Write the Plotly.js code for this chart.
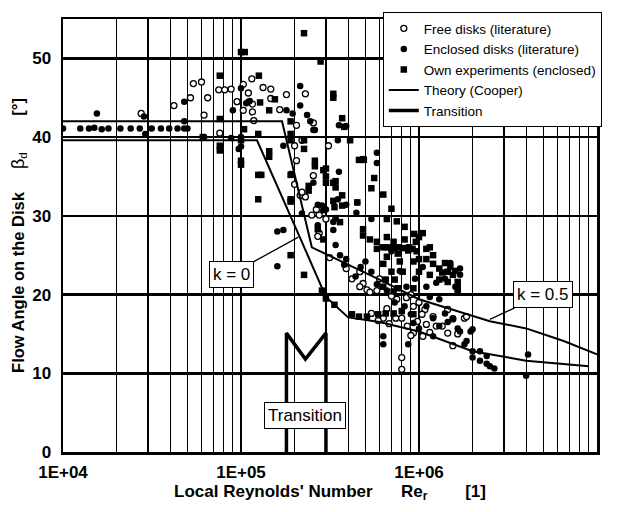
<!DOCTYPE html>
<html>
<head>
<meta charset="utf-8">
<script src="https://cdn.plot.ly/plotly-3.0.1.min.js"></script>
<style>html,body{margin:0;padding:0;background:#fff;}#chart{width:621px;height:512px;}</style>
</head>
<body>
<div id="chart"></div>
<script>
// ---- Data ----
const freeRe = [2.75e4,4.2e4,5.2e4,5.4e4,6.0e4,6.5e4,6.2e4,7.5e4,8.1e4,8.8e4,7.6e4,9.5e4,1.03e5,1.1e5,1.15e5,1.16e5,1.16e5,1.18e5,1.33e5,1.47e5,1.47e5,1.8e5,2.3e5,1.65e5,1.03e5,2.05e5,2.55e5,3.1e5,2.05e5,2.55e5,2.0e5,2.15e5,2.3e5,2.2e5,2.5e5,2.65e5,2.75e5,2.75e5,2.7e5,3.0e5,3.15e5,3.9e5,4.2e5,4.65e5,4.85e5,5.1e5,5.3e5,4.65e5,2.0e5,2.2e5,5.4e5,6.6e5,7.4e5,8.0e5,8.6e5,9.3e5,9.8e5,1.08e6,1.05e6,1.2e6,1.25e6,1.45e6,1.55e6,1.55e6,1.65e6,1.8e6,1.85e6,1.45e6,1.35e6,8.0e5,8.0e5,6.3e5,7.5e5,9.3e5,1.04e6,1.1e6,5.8e5,6.0e5,7.0e5,8.5e5,9.0e5,1.0e6,6.8e5,5.9e5,1.15e6,9.0e5];
const freeAngle = [43.0,44.0,45.0,46.8,47.0,45.0,42.8,46.0,46.0,46.1,40.5,44.5,46.7,45.6,47.4,44.2,43.2,42.1,46.3,46.1,44.9,45.4,45.5,43.5,43.4,41.5,41.8,38.9,37.0,35.1,34.0,32.6,32.4,33.0,30.1,30.8,30.1,27.8,27.4,29.6,24.7,23.3,22.0,22.9,21.4,20.6,20.3,21.0,38.9,39.6,17.6,18.2,17.0,17.0,16.0,15.1,16.6,18.1,14.7,17.2,16.0,15.1,13.5,16.9,15.0,17.0,17.2,18.1,16.0,12.0,10.5,17.0,19.4,18.5,17.5,16.2,20.5,22.0,19.8,19.6,20.0,19.0,16.3,16.7,15.2,14.8];

const enclosedRe = [1.0e4,1.25e4,1.4e4,1.5e4,1.65e4,1.8e4,1.55e4,2.1e4,2.4e4,2.7e4,2.85e4,2.9e4,3.15e4,3.55e4,3.95e4,4.4e4,4.8e4,4.8e4,5.0e4,4.8e4,9.0e4,1.1e5,1.0e5,8.8e4,9.7e4,6.2e4,2.15e5,2.15e5,2.35e5,2.45e5,2.6e5,1.07e5,1.12e5,1.8e5,1.95e5,3.5e5,3.55e5,3.55e5,1.73e5,2.55e5,5.8e5,5.8e5,1.6e5,1.73e5,1.6e5,2.2e5,2.7e5,2.85e5,3.0e5,3.5e5,3.9e5,4.45e5,3.3e5,3.3e5,3.4e5,3.6e5,3.9e5,3.8e5,3.9e5,2.55e5,2.7e5,5.4e5,4.5e5,2.9e5,1.5e6,1.7e6,1.7e6,1.3e6,1.15e6,6.3e5,6.3e5,8.7e5,1.2e6,1.3e6,1.4e6,1.55e6,1.65e6,1.7e6,1.8e6,1.85e6,1.95e6,2.0e6,2.0e6,2.0e6,2.2e6,2.2e6,2.4e6,2.4e6,2.5e6,2.65e6,4.1e6,4.0e6,1.0e6,9.3e5,5.0e5,5.4e5,5.8e5,4.7e5,4.4e5,1.0e5,1.0e5,6.5e5,7.0e5,7.8e5,8.5e5,9.5e5,1.05e6,1.1e6,1.25e6,1.4e6,1.6e6,6.6e5,7.3e5,8.3e5,1.1e6,1.2e6,1.45e6,9.0e5];
const enclosedAngle = [41.1,41.1,41.1,41.2,41.0,41.1,43.0,41.1,41.1,41.1,42.6,40.4,41.1,41.1,41.1,41.1,42.0,41.1,41.1,44.5,43.4,44.5,46.2,39.9,38.5,40.0,46.5,44.0,42.8,42.0,40.9,44.3,44.6,43.4,43.0,39.6,35.6,41.5,38.9,34.2,38.0,36.7,28.0,28.2,23.6,30.3,31.4,31.3,30.8,32.1,31.4,30.4,29.2,28.2,26.3,25.0,24.5,23.8,41.4,40.9,28.8,29.6,31.7,30.7,24.0,23.3,22.5,19.4,19.7,14.7,13.7,13.7,14.7,16.0,17.6,17.0,15.7,15.3,13.7,14.1,15.3,15.6,12.8,12.0,12.8,11.6,12.2,11.2,10.9,10.6,12.4,9.7,15.7,16.4,24.2,22.9,21.3,23.5,22.3,40.0,38.8,26.0,25.5,23.0,21.0,22.0,23.5,21.0,21.5,22.0,21.0,20.5,19.0,18.5,18.5,17.0,16.5,17.5];

const ownRe = [7.6e4,1.0e5,1.05e5,7.6e4,7.6e4,7.6e4,1.04e5,1.0e5,1.0e5,1.0e5,1.25e5,1.3e5,1.25e5,6.1e4,1.25e5,2.26e5,2.8e5,1.26e5,1.28e5,1.44e5,1.55e5,3.3e5,3.3e5,1.44e5,1.44e5,1.9e5,1.9e5,1.9e5,1.93e5,2.6e5,2.6e5,2.26e5,2.26e5,3.0e5,3.0e5,2.4e5,2.4e5,3.4e5,3.4e5,3.7e5,3.8e5,4.1e5,4.6e5,4.9e5,5.6e5,5.4e5,6.3e5,1.9e5,3.7e5,3.3e5,1.9e5,1.9e5,2.26e5,1.9e5,2.9e5,3.0e5,3.3e5,3.7e5,3.35e5,2.7e5,2.9e5,4.85e5,4.5e5,4.85e5,4.85e5,5.3e5,5.8e5,3.4e5,3.6e5,5.8e5,2.85e5,3.0e5,7.0e5,6.6e5,7.5e5,8.3e5,9.4e5,6.6e5,6.3e5,6.8e5,7.2e5,7.7e5,8.2e5,8.7e5,9.2e5,9.7e5,1.0e6,1.1e6,1.2e6,1.3e6,1.45e6,1.55e6,1.65e6,1.65e6,1.65e6,7.8e5,8.1e5,9.3e5,1.0e6,1.15e6,1.3e6,1.45e6,7.2e5,6.3e5,7.6e5,9.3e5,8.3e5,8.8e5,9.6e5,1.0e6,1.1e6,7.6e5,7.2e5,6.6e5,6.3e5,7.0e5,6.5e5,7.3e5,4.2e5,4.6e5,5.1e5,5.9e5,6.5e5,7.2e5,8.0e5,9.3e5,3.35e5,1.05e6,1.15e6,1.2e6,1.4e6,1.5e6,1.35e6,1.6e6];
const ownAngle = [47.8,50.8,50.8,42.3,38.9,38.3,41.0,39.6,37.0,36.5,35.2,35.2,32.1,40.0,40.4,53.2,49.6,47.8,44.4,43.4,44.8,45.5,45.0,38.2,37.5,42.0,40.4,39.6,35.3,37.0,36.3,39.6,38.5,36.0,35.0,33.8,33.2,34.4,33.6,42.4,41.3,39.6,37.1,37.1,34.8,33.5,32.7,32.1,32.6,31.9,31.8,35.2,22.5,25.0,35.8,34.2,34.2,31.3,31.1,28.3,27.0,37.2,31.7,28.3,27.5,27.0,26.7,29.7,29.2,25.8,20.5,19.5,30.9,29.6,29.3,28.6,27.7,27.3,26.0,26.0,25.9,26.0,25.9,25.6,25.8,25.5,24.5,24.5,23.9,23.3,22.9,22.5,21.6,20.8,20.4,24.2,22.9,24.2,22.9,22.5,21.9,21.6,20.4,21.0,20.8,20.8,27.0,26.0,26.7,27.3,25.8,25.2,26.7,24.8,23.9,22.9,21.9,21.9,17.5,17.2,17.2,17.5,17.6,17.6,17.9,17.5,18.7,27.8,26.0,25.0,24.0,23.5,22.8,23.0];

// Theory (Cooper) curves
const k0Re = [1e4,1.23e5,2.1e5,3e5,4e5,6e5,1e6,2e6,4e6,9e6];
const k0Angle = [39.6,39.6,27.7,19.7,17.1,16.5,15.3,12.8,11.6,10.9];
const k05Re = [1e4,1.7e5,2.5e5,6e5,1e6,2.5e6,4e6,6.5e6,1e7];
const k05Angle = [42.0,42.0,26.0,21.9,19.4,16.6,15.7,14.1,12.4];

// Transition marker
const transRe = [1.8e5,1.8e5,2.3e5,3e5,3e5];
const transAngle = [0,15.1,11.8,15.1,0];

// Axis ticks
const xTickVals = [1e4,1e5,1e6,1e7];
const xTickText = ['1E+04','1E+05','1E+06','1E+07'];
const yTickVals = [0,10,20,30,40,50];

const FONT = 'Arial, "Liberation Sans", sans-serif';
const NB = '\u00a0';

const traces = [
  {x: freeRe, y: freeAngle, type:'scatter', mode:'markers', name:'Free disks (literature)',
   marker:{symbol:'circle', size:6, color:'#fff', line:{color:'#000', width:1.3}}},
  {x: enclosedRe, y: enclosedAngle, type:'scatter', mode:'markers', name:'Enclosed disks (literature)',
   marker:{symbol:'circle', size:6.5, color:'#000', line:{width:0}}},
  {x: ownRe, y: ownAngle, type:'scatter', mode:'markers', name:'Own experiments (enclosed)',
   marker:{symbol:'square', size:6.5, color:'#000', line:{width:0}}},
  {x: k0Re, y: k0Angle, type:'scatter', mode:'lines', name:'Theory (Cooper)',
   line:{color:'#000', width:2}},
  {x: k05Re, y: k05Angle, type:'scatter', mode:'lines', name:'Theory k=0.5', showlegend:false,
   line:{color:'#000', width:2}},
  {x: transRe, y: transAngle, type:'scatter', mode:'lines', name:'Transition',
   line:{color:'#000', width:3.5}}
];

const boxAnn = {bordercolor:'#000', borderwidth:1, bgcolor:'#fff', borderpad:3,
  font:{family:FONT, size:17, color:'#000'}};

const layout = {
  width:621, height:512,
  margin:{l:63, r:24, t:15, b:60},
  paper_bgcolor:'#fff', plot_bgcolor:'#fff',
  font:{family:FONT, color:'#000'},
  showlegend:true,
  legend:{x:1.009, xanchor:'right', y:1.016, yanchor:'top', bgcolor:'#fff',
    bordercolor:'#000', borderwidth:1, font:{family:FONT, size:13.5, color:'#000'},
    tracegroupgap:0, itemwidth:30},
  xaxis:{type:'log', range:[4,7], tickmode:'array', tickvals:xTickVals, ticktext:xTickText,
    showgrid:true, gridcolor:'#000', gridwidth:2.5, zeroline:false,
    showline:true, linecolor:'#000', linewidth:2.5, mirror:true, ticks:'',
    ticklabelstandoff:3,
    tickfont:{family:FONT, size:17, weight:'bold', color:'#000'},
    minor:{dtick:'D1', showgrid:true, gridcolor:'#000', gridwidth:1.2, ticks:''},
    title:{text:'Local Reynolds\' Number'+NB.repeat(6)+'Re<sub>r</sub>'+NB.repeat(8)+'[1]',
      font:{family:FONT, size:17, weight:'bold', color:'#000'}, standoff:4}},
  yaxis:{range:[0,55], tickmode:'array', tickvals:yTickVals,
    showgrid:true, gridcolor:'#000', gridwidth:2.5, zeroline:false,
    showline:true, linecolor:'#000', linewidth:2.5, mirror:true, ticks:'',
    ticklabelstandoff:6,
    tickfont:{family:FONT, size:17, weight:'bold', color:'#000'},
    title:{text:'<b>Flow Angle on the Disk</b>'+NB.repeat(5)+'<span style="font-size:18px">\u03b2</span><sub>d</sub>'+NB.repeat(8)+'<b>[°]</b>',
      font:{family:FONT, size:16.5, color:'#000'}, standoff:4}},
  annotations:[
    Object.assign({x:Math.log10(2.1e5), y:27.3, xref:'x', yref:'y', text:'k = 0',
      showarrow:true, arrowhead:0, arrowwidth:1.3, arrowcolor:'#000', ax:-67, ay:37}, boxAnn),
    Object.assign({x:Math.log10(2.5e6), y:16.85, xref:'x', yref:'y', text:'k = 0.5',
      showarrow:true, arrowhead:0, arrowwidth:1.3, arrowcolor:'#000', ax:53, ay:-24.5}, boxAnn),
    Object.assign({x:Math.log10(2.3e5), y:4.65, xref:'x', yref:'y', text:'Transition',
      showarrow:false}, boxAnn)
  ]
};

Plotly.newPlot('chart', traces, layout, {staticPlot:true, displayModeBar:false});
</script>
</body>
</html>
